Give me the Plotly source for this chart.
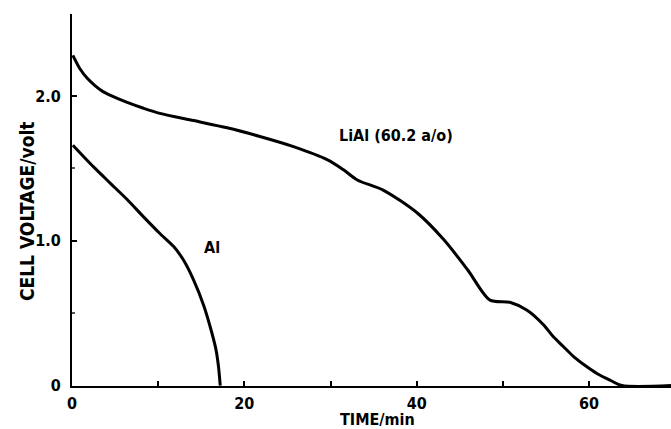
import plotly.graph_objects as go

# LiAl (60.2 a/o) discharge curve
lial_time = [0.1, 0.9, 1.8, 2.7, 3.6, 4.6, 6.4, 8.3, 10.2, 14.1, 18.0, 21.8, 25.7, 29.6,
             31.5, 33.1, 36.1, 40.1, 43.1, 45.9, 48.5, 50.8, 52.8, 54.7, 55.8, 57.0,
             58.2, 59.5, 61.0, 62.5, 63.8, 69.5]
lial_volt = [2.28, 2.19, 2.12, 2.07, 2.03, 2.0, 1.955, 1.915, 1.88, 1.83, 1.78, 1.72, 1.65, 1.56,
             1.49, 1.42, 1.35, 1.19, 1.01, 0.80, 0.59, 0.575, 0.52, 0.42, 0.34, 0.27,
             0.20, 0.14, 0.08, 0.035, 0.0, 0.0]

# Al discharge curve
al_time = [0.1, 2.5, 4.4, 6.4, 8.3, 10.2, 11.8, 12.9, 14.1, 15.3, 16.2, 16.7, 17.0, 17.2]
al_volt = [1.66, 1.51, 1.40, 1.285, 1.165, 1.05, 0.96, 0.87, 0.73, 0.55, 0.37, 0.25, 0.13, 0.0]

x_tickvals = [0, 20, 40, 60]
x_ticktext = ["0", "20", "40", "60"]
y_tickvals = [0, 1, 2]
y_ticktext = ["0", "1.0", "2.0"]

FONT = "Liberation Sans Narrow, DejaVu Sans Condensed, Arial Narrow, Roboto, sans-serif"

fig = go.Figure()
fig.add_trace(go.Scatter(x=lial_time, y=lial_volt, mode="lines",
                         line=dict(color="black", width=3, shape="spline", smoothing=0.8),
                         showlegend=False))
fig.add_trace(go.Scatter(x=al_time, y=al_volt, mode="lines",
                         line=dict(color="black", width=3, shape="spline", smoothing=0.6),
                         showlegend=False))

fig.update_layout(
    width=671, height=429,
    margin=dict(l=72, r=0, t=14, b=43),
    paper_bgcolor="white", plot_bgcolor="white",
    font=dict(family=FONT, color="black", size=16, weight="bold"),
    xaxis=dict(range=[0, 69.5], showgrid=False, zeroline=False,
               showline=True, linecolor="black", linewidth=2,
               tickvals=x_tickvals, ticktext=x_ticktext,
               ticks="inside", ticklen=5, tickwidth=1.5, tickcolor="black",
               minor=dict(tickvals=[10, 30, 50], ticks="inside", ticklen=5, tickcolor="black"),
               tickfont=dict(family=FONT, size=16, weight="bold"),
               ticklabelstandoff=2),
    yaxis=dict(range=[-0.003, 2.566], showgrid=False, zeroline=False,
               showline=True, linecolor="black", linewidth=2,
               tickvals=y_tickvals, ticktext=y_ticktext,
               ticks="inside", ticklen=5, tickwidth=1.5, tickcolor="black",
               minor=dict(tickvals=[0.5, 1.5], ticks="inside", ticklen=3, tickcolor="#555"),
               tickfont=dict(family=FONT, size=16, weight="bold"),
               ticklabelstandoff=6),
    annotations=[
        dict(text="LiAl (60.2 a/o)", x=37.6, y=1.73, xref="x", yref="y",
             xanchor="center", yanchor="middle",
             showarrow=False, font=dict(family=FONT, size=16, weight="bold")),
        dict(text="Al", x=16.3, y=0.955, xref="x", yref="y",
             xanchor="center", yanchor="middle",
             showarrow=False, font=dict(family=FONT, size=16, weight="bold")),
        dict(text="TIME/min", x=(377 - 72) / 599, y=(386 - 420) / 372,
             xref="paper", yref="paper", xanchor="center", yanchor="middle",
             showarrow=False, font=dict(family=FONT, size=16, weight="bold")),
        dict(text="CELL VOLTAGE/volt", x=(27 - 72) / 599, y=(386 - 212) / 372,
             xref="paper", yref="paper", xanchor="center", yanchor="middle",
             showarrow=False, textangle=-90,
             font=dict(family=FONT, size=19, weight="bold")),
    ],
)

fig.write_html("out.html")
